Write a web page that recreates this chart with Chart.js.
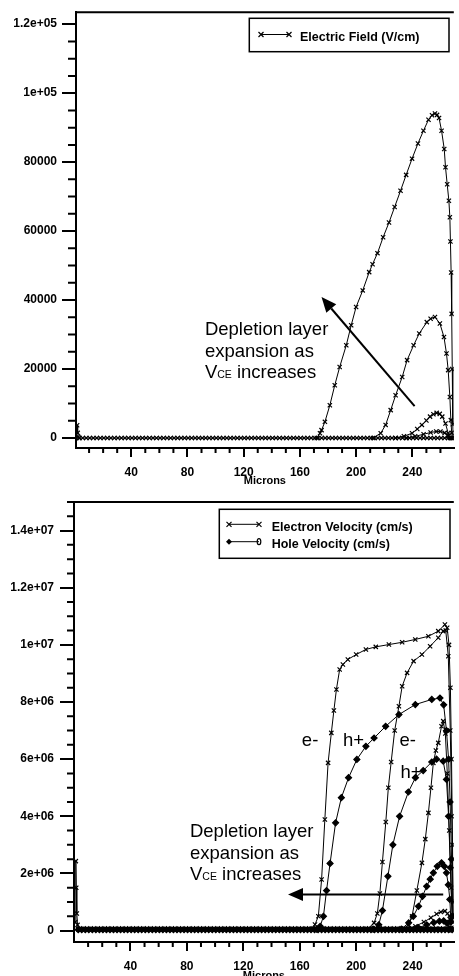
<!DOCTYPE html>
<html>
<head>
<meta charset="utf-8">
<script src="https://cdn.jsdelivr.net/npm/chart.js@4.4.1/dist/chart.umd.min.js"></script>
<style>
html, body { margin: 0; padding: 0; background: #fff; overflow: hidden; }
#wrap { position: relative; width: 459px; height: 976px; }
canvas { display: block; }
</style>
</head>
<body>
<div id="wrap">
<canvas id="fieldChart" width="459" height="488"></canvas>
<canvas id="velocityChart" width="459" height="488"></canvas>
</div>
<script>
// mesh points (microns) on the flat part of the curves
const meshX = [
    3, 5.5, 8, 10.5, 13, 15.5, 18, 20.5, 23, 25.5,
    28, 30.5, 33, 35.5, 38, 40.5, 43, 45.5, 48, 50.5,
    53, 55.5, 58, 60.5, 63, 65.5, 68, 70.5, 73, 75.5,
    78, 80.5, 83, 85.5, 88, 90.5, 93, 95.5, 98, 100.5,
    103, 105.5, 108, 110.5, 113, 115.5, 118, 120.5, 123, 125.5,
    128, 130.5, 133, 135.5, 138, 140.5, 143, 145.5, 148, 150.5,
    153, 155.5, 158, 160.5, 163, 165.5, 168, 170.5, 173, 175.5,
    178, 180.5, 183, 185.5, 188, 190.5, 193, 195.5, 198, 200.5,
    203, 205.5, 208, 210.5, 213, 215.5, 218, 220.5, 223, 225.5,
    228, 230.5, 233, 235.5, 238, 240.5, 243, 245.5, 248, 250.5,
    253, 255.5, 258, 260.5, 263, 265.5, 268
];
const fieldFlat = [
    0, 0, 0, 0, 0, 0, 0, 0, 0, 0,
    0, 0, 0, 0, 0, 0, 0, 0, 0, 0,
    0, 0, 0, 0, 0, 0, 0, 0, 0, 0,
    0, 0, 0, 0, 0, 0, 0, 0, 0, 0,
    0, 0, 0, 0, 0, 0, 0, 0, 0, 0,
    0, 0, 0, 0, 0, 0, 0, 0, 0, 0,
    0, 0, 0, 0, 0, 0, 0, 0, 0, 0,
    0, 0, 0, 0, 0, 0, 0, 0, 0, 0,
    0, 0, 0, 0, 0, 0, 0, 0, 0, 0,
    0, 0, 0, 0, 0, 0, 0, 0, 0, 0,
    0, 0, 0, 0, 0, 0, 0
];
const electronFlat = [
    5e4, 5e4, 5e4, 5e4, 5e4, 5e4, 5e4, 5e4, 5e4, 5e4,
    5e4, 5e4, 5e4, 5e4, 5e4, 5e4, 5e4, 5e4, 5e4, 5e4,
    5e4, 5e4, 5e4, 5e4, 5e4, 5e4, 5e4, 5e4, 5e4, 5e4,
    5e4, 5e4, 5e4, 5e4, 5e4, 5e4, 5e4, 5e4, 5e4, 5e4,
    5e4, 5e4, 5e4, 5e4, 5e4, 5e4, 5e4, 5e4, 5e4, 5e4,
    5e4, 5e4, 5e4, 5e4, 5e4, 5e4, 5e4, 5e4, 5e4, 5e4,
    5e4, 5e4, 5e4, 5e4, 5e4, 5e4, 5e4, 5e4, 5e4, 5e4,
    5e4, 5e4, 5e4, 5e4, 5e4, 5e4, 5e4, 5e4, 5e4, 5e4,
    5e4, 5e4, 5e4, 5e4, 5e4, 5e4, 5e4, 5e4, 5e4, 5e4,
    5e4, 5e4, 5e4, 5e4, 5e4, 5e4, 5e4, 5e4, 5e4, 5e4,
    5e4, 5e4, 5e4, 5e4, 5e4, 5e4, 5e4
];
const holeFlat = [
    3e4, 3e4, 3e4, 3e4, 3e4, 3e4, 3e4, 3e4, 3e4, 3e4,
    3e4, 3e4, 3e4, 3e4, 3e4, 3e4, 3e4, 3e4, 3e4, 3e4,
    3e4, 3e4, 3e4, 3e4, 3e4, 3e4, 3e4, 3e4, 3e4, 3e4,
    3e4, 3e4, 3e4, 3e4, 3e4, 3e4, 3e4, 3e4, 3e4, 3e4,
    3e4, 3e4, 3e4, 3e4, 3e4, 3e4, 3e4, 3e4, 3e4, 3e4,
    3e4, 3e4, 3e4, 3e4, 3e4, 3e4, 3e4, 3e4, 3e4, 3e4,
    3e4, 3e4, 3e4, 3e4, 3e4, 3e4, 3e4, 3e4, 3e4, 3e4,
    3e4, 3e4, 3e4, 3e4, 3e4, 3e4, 3e4, 3e4, 3e4, 3e4,
    3e4, 3e4, 3e4, 3e4, 3e4, 3e4, 3e4, 3e4, 3e4, 3e4,
    3e4, 3e4, 3e4, 3e4, 3e4, 3e4, 3e4, 3e4, 3e4, 3e4,
    3e4, 3e4, 3e4, 3e4, 3e4, 3e4, 3e4
];

// electric field (V/cm), one curve per bias
const fieldSpikeX = [1, 1.5, 1.9, 2.4, 3];
const fieldSpikeY = [0, 3700, 1500, 300, 0];
const field1X = [172, 174.3, 175.4, 177.8, 181.3, 184.8, 188.3, 193, 196.5, 200, 204.7, 209.3, 211.7, 215.2, 219.2, 223.4, 227.4, 231.6, 235.6, 239.8, 244, 247.9, 251.5, 254, 256.1, 257.6, 259, 260.8, 262.7, 263.6, 264.8, 266, 266.7, 267.1, 267.6, 268, 268.4, 268.8, 269];
const field1Y = [0, 1400, 2300, 4700, 9500, 15300, 20600, 26900, 32700, 38000, 42800, 48100, 50400, 53600, 58200, 62500, 67000, 71700, 76300, 81000, 85400, 89100, 92300, 93600, 94100, 93700, 92800, 89100, 83800, 78500, 73600, 68800, 64000, 57000, 48000, 36000, 20000, 4000, 0];
const field2X = [212, 217.5, 221, 224.6, 228.1, 232.8, 236.3, 240.9, 244.9, 250.3, 253, 256.1, 259.6, 262.5, 264.3, 265.5, 266.7, 267.4, 268, 268.5];
const field2Y = [0, 1400, 3800, 8100, 12400, 17700, 22600, 26900, 30300, 33600, 34600, 35100, 33200, 29300, 24500, 19700, 11900, 5200, 1500, 0];
const field3X = [228, 234, 239.8, 243.5, 246.8, 250, 252.6, 255, 257.3, 259.5, 261.3, 263.6, 265.5, 266.8];
const field3Y = [0, 500, 1400, 2600, 3800, 5100, 6200, 6900, 7300, 7000, 6200, 4200, 1400, 0];
const field4X = [236, 242, 248, 253, 257, 260, 263, 265.5, 267.5];
const field4Y = [0, 500, 1100, 1600, 1900, 1900, 1500, 700, 0];

// velocities (cm/s)
const velSpikeX = [1, 1.3, 1.6, 2, 2.5, 3];
const velSpikeY = [3e5, 2.43e6, 1.5e6, 6e5, 2e5, 5e4];
const elec1X = [168, 170.8, 173.2, 175.5, 177.8, 180.1, 182.4, 184.2, 186, 188.3, 190.6, 194.1, 200, 206.9, 213.9, 223.2, 232.6, 241.9, 251.2, 258.2, 262.9, 264.5, 265.8, 266.8, 267.6, 268.3, 268.9];
const elec1Y = [5e4, 2.1e5, 5e5, 1.79e6, 3.89e6, 5.87e6, 6.92e6, 7.7e6, 8.44e6, 9.14e6, 9.31e6, 9.49e6, 9.66e6, 9.84e6, 9.93e6, 1.001e7, 1.009e7, 1.019e7, 1.03e7, 1.048e7, 1.071e7, 1.06e7, 1.0e7, 8.5e6, 6e6, 3e6, 5e5];
const hole1X = [172, 174.5, 176.8, 179, 181.5, 185.4, 189.5, 194.6, 200.5, 206.9, 212.7, 220.9, 230.3, 241.9, 253.6, 259.4, 262, 264, 265.5, 266.6, 267.6, 268.5];
const hole1Y = [5e4, 1.5e5, 5e5, 1.4e6, 2.35e6, 3.77e6, 4.65e6, 5.35e6, 5.99e6, 6.45e6, 6.74e6, 7.15e6, 7.56e6, 7.91e6, 8.09e6, 8.14e6, 7.9e6, 7e6, 6e6, 4.5e6, 2.5e6, 5e5];
const elec2X = [208, 212.7, 215, 216.8, 218.6, 221, 222.8, 224.8, 227.3, 230.3, 232.6, 236.1, 240.7, 246.6, 252.4, 258.2, 261.7, 263.5, 265.3, 266.7, 267.8, 268.6];
const elec2Y = [5e4, 2.7e5, 6e5, 1.3e6, 2.4e6, 3.8e6, 5e6, 5.9e6, 7e6, 7.85e6, 8.55e6, 9.02e6, 9.43e6, 9.66e6, 9.95e6, 1.025e7, 1.048e7, 1.05e7, 9.6e6, 7e6, 4e6, 1e6];
const hole2X = [212, 216, 218.6, 222.5, 226, 230.8, 237, 242, 247.5, 253.6, 257, 261.7, 264, 265.5, 266.8, 268];
const hole2Y = [5e4, 2e5, 7e5, 1.9e6, 3e6, 4e6, 4.85e6, 5.35e6, 5.6e6, 5.9e6, 6e6, 5.93e6, 5.29e6, 4e6, 2.2e6, 5e5];
const elec3X = [234, 237, 239.6, 243, 246.6, 249, 251.2, 253, 254.7, 256.5, 258.2, 260.5, 261.7, 263.2, 264.6, 266, 267.3, 268.3];
const elec3Y = [5e4, 2e5, 5e5, 1.4e6, 2.37e6, 3.2e6, 4.12e6, 5e6, 5.87e6, 6.3e6, 6.57e6, 7.15e6, 7.33e6, 6.9e6, 5.5e6, 3.5e6, 1.5e6, 3e5];
const hole3X = [232, 237.2, 240.5, 244.2, 247, 250, 252.5, 254.7, 257.5, 260.5, 262.5, 264, 265.3, 266.4, 267.2];
const hole3Y = [5e4, 2.7e5, 5e5, 8.5e5, 1.2e6, 1.55e6, 1.8e6, 2.02e6, 2.25e6, 2.37e6, 2.25e6, 2.02e6, 1.6e6, 1.09e6, 3e5];
const elec4X = [236, 242, 248, 253, 257, 260, 262.9, 264.8, 266.3, 267.5];
const elec4Y = [5e4, 1.5e5, 3e5, 4.5e5, 5.8e5, 6.5e5, 6.8e5, 6e5, 4e5, 1e5];
const hole4X = [238, 244, 250, 255, 259, 262, 264.5, 266.5];
const hole4Y = [5e4, 1e5, 2e5, 2.8e5, 3.3e5, 3.4e5, 2.5e5, 5e4];

// axis ticks
const micronTicks = [40, 80, 120, 160, 200, 240];
const micronLabels = ['40', '80', '120', '160', '200', '240'];
const micronMinor = [10, 20, 30, 50, 60, 70, 90, 100, 110, 130, 140, 150, 170, 180, 190, 210, 220, 230, 250, 260];
const fieldTicks = [0, 20000, 40000, 60000, 80000, 100000, 120000];
const fieldLabels = ['0', '20000', '40000', '60000', '80000', '1e+05', '1.2e+05'];
const fieldMinor = [5000, 10000, 15000, 25000, 30000, 35000, 45000, 50000, 55000, 65000, 70000, 75000, 85000, 90000, 95000, 105000, 110000, 115000];
const velTicks = [0, 2e6, 4e6, 6e6, 8e6, 1e7, 1.2e7, 1.4e7];
const velLabels = ['0', '2e+06', '4e+06', '6e+06', '8e+06', '1e+07', '1.2e+07', '1.4e+07'];
const velMinor = [5e5, 1e6, 1.5e6, 2.5e6, 3e6, 3.5e6, 4.5e6, 5e6, 5.5e6, 6.5e6, 7e6, 7.5e6, 8.5e6, 9e6, 9.5e6, 1.05e7, 1.1e7, 1.15e7, 1.25e7, 1.3e7, 1.35e7, 1.45e7, 1.5e7];

Chart.defaults.font.family = '"Liberation Sans", Arial, sans-serif';
Chart.defaults.color = '#000';

function pts(xs, ys) {
    return xs.map((x, i) => ({ x: x, y: ys[i] }));
}

function curve(xs, ys, marker) {
    return {
        data: pts(xs, ys),
        showLine: true,
        borderColor: '#000',
        borderWidth: 1,
        tension: 0,
        pointStyle: marker,
        pointRadius: 3,
        pointBorderWidth: 1.2,
        pointBorderColor: '#000',
        pointBackgroundColor: '#000'
    };
}

function drawMarker(ctx, kind, x, y) {
    ctx.beginPath();
    if (kind === 'x') {
        ctx.lineWidth = 1.2;
        ctx.moveTo(x - 2.5, y - 2.5); ctx.lineTo(x + 2.5, y + 2.5);
        ctx.moveTo(x - 2.5, y + 2.5); ctx.lineTo(x + 2.5, y - 2.5);
        ctx.stroke();
    } else if (kind === 'diamond') {
        ctx.moveTo(x, y - 3); ctx.lineTo(x + 3, y); ctx.lineTo(x, y + 3); ctx.lineTo(x - 3, y);
        ctx.closePath();
        ctx.fill();
    } else {
        ctx.lineWidth = 1.2;
        ctx.ellipse(x, y, 1.8, 3, 0, 0, Math.PI * 2);
        ctx.stroke();
    }
}

function decor(cfg) {
    return {
        id: 'decor',
        afterDraw(chart) {
            const ctx = chart.ctx;
            const a = chart.chartArea;
            const xs = chart.scales.x;
            const ys = chart.scales.y;
            ctx.save();
            ctx.strokeStyle = '#000';
            ctx.fillStyle = '#000';

            // top frame line and minor ticks
            ctx.lineWidth = 2;
            ctx.beginPath();
            ctx.moveTo(a.left - 1, a.top);
            ctx.lineTo(a.right, a.top);
            cfg.minorX.forEach(v => {
                const px = xs.getPixelForValue(v);
                ctx.moveTo(px, a.bottom);
                ctx.lineTo(px, a.bottom + cfg.minorLenX);
            });
            cfg.minorY.forEach(v => {
                const py = ys.getPixelForValue(v);
                ctx.moveTo(a.left, py);
                ctx.lineTo(a.left - cfg.minorLenY, py);
            });
            ctx.stroke();

            // arrow
            const ar = cfg.arrow;
            const x0 = xs.getPixelForValue(ar.from[0]), y0 = ys.getPixelForValue(ar.from[1]);
            const x1 = xs.getPixelForValue(ar.to[0]), y1 = ys.getPixelForValue(ar.to[1]);
            const ang = Math.atan2(y1 - y0, x1 - x0);
            const hl = 15, hw = 6.5;
            const bx = x1 - hl * Math.cos(ang), by = y1 - hl * Math.sin(ang);
            ctx.lineWidth = 2;
            ctx.beginPath();
            ctx.moveTo(x0, y0);
            ctx.lineTo(bx, by);
            ctx.stroke();
            ctx.beginPath();
            ctx.moveTo(x1, y1);
            ctx.lineTo(bx + hw * Math.sin(ang), by - hw * Math.cos(ang));
            ctx.lineTo(bx - hw * Math.sin(ang), by + hw * Math.cos(ang));
            ctx.closePath();
            ctx.fill();

            // notes
            ctx.textBaseline = 'alphabetic';
            ctx.textAlign = 'left';
            cfg.notes.forEach(n => {
                let px = xs.getPixelForValue(n.x);
                const py = ys.getPixelForValue(n.y);
                n.parts.forEach(p => {
                    ctx.font = p[1] + 'px "Liberation Sans", Arial, sans-serif';
                    ctx.fillText(p[0], px, py);
                    px += ctx.measureText(p[0]).width;
                });
            });

            // legend box
            const lg = cfg.legend;
            ctx.lineWidth = 1.5;
            ctx.strokeRect(lg.box[0], lg.box[1], lg.box[2], lg.box[3]);
            ctx.font = 'bold 12.5px "Liberation Sans", Arial, sans-serif';
            ctx.textBaseline = 'middle';
            lg.items.forEach(it => {
                ctx.lineWidth = 1;
                ctx.beginPath();
                ctx.moveTo(lg.x0, it.y);
                ctx.lineTo(lg.x1, it.y);
                ctx.stroke();
                drawMarker(ctx, it.start, lg.x0, it.y);
                drawMarker(ctx, it.end, lg.x1, it.y);
                ctx.fillText(it.label, lg.tx, it.y + 3);
            });
            ctx.restore();
        }
    };
}

function axes(xMin, xMax, yMin, yMax, yTicks, yLabels, yPad, xHeight, yWidth, titlePad) {
    return {
        x: {
            type: 'linear',
            min: xMin,
            max: xMax,
            afterBuildTicks: s => { s.ticks = micronTicks.map(v => ({ value: v })); },
            afterFit: s => { s.height = xHeight; },
            ticks: {
                autoSkip: false,
                maxRotation: 0,
                padding: 8,
                font: { size: 12, weight: 'bold' },
                callback: (v, i) => micronLabels[i]
            },
            grid: { display: true, drawOnChartArea: false, tickLength: 9, lineWidth: 2, color: '#000' },
            border: { display: true, color: '#000', width: 2 },
            title: { display: true, text: 'Microns', font: { size: 11, weight: 'bold' }, padding: { top: 0, bottom: titlePad } }
        },
        y: {
            type: 'linear',
            min: yMin,
            max: yMax,
            afterBuildTicks: s => { s.ticks = yTicks.map(v => ({ value: v })); },
            afterFit: s => { s.width = yWidth; },
            ticks: {
                padding: yPad,
                font: { size: 12, weight: 'bold' },
                callback: (v, i) => yLabels[i]
            },
            grid: { display: true, drawOnChartArea: false, tickLength: 14, lineWidth: 2, color: '#000' },
            border: { display: true, color: '#000', width: 2 }
        }
    };
}

function loadFieldChart() {
    const ctx = document.getElementById('fieldChart').getContext('2d');
    new Chart(ctx, {
        type: 'scatter',
        data: {
            datasets: [
                curve(meshX, fieldFlat, 'crossRot'),
                curve(fieldSpikeX, fieldSpikeY, 'crossRot'),
                curve(field1X, field1Y, 'crossRot'),
                curve(field2X, field2Y, 'crossRot'),
                curve(field3X, field3Y, 'crossRot'),
                curve(field4X, field4Y, 'crossRot')
            ]
        },
        options: {
            responsive: false,
            animation: false,
            devicePixelRatio: 1,
            events: [],
            layout: { padding: { top: 11, left: 0, right: 0, bottom: 0 } },
            plugins: { legend: { display: false }, tooltip: { enabled: false } },
            scales: axes(0.7, 269.5, -2890, 123470, fieldTicks, fieldLabels, 5, 40, 76, 0.4)
        },
        plugins: [decor({
            minorX: micronMinor, minorLenX: 5,
            minorY: fieldMinor, minorLenY: 8,
            arrow: { from: [241.6, 9250], to: [175.4, 40860] },
            notes: [
                { x: 92.4, y: 29780, parts: [['Depletion layer', 18.5]] },
                { x: 92.4, y: 23570, parts: [['expansion as', 18.5]] },
                { x: 92.4, y: 17350, parts: [['V', 18.5], ['CE', 10.5], [' increases', 18.5]] }
            ],
            legend: {
                box: [249.3, 18.3, 199.7, 33.4], x0: 261, x1: 289, tx: 300,
                items: [{ label: 'Electric Field (V/cm)', y: 34.5, start: 'x', end: 'x' }]
            }
        })]
    });
}

function loadVelocityChart() {
    const ctx = document.getElementById('velocityChart').getContext('2d');
    new Chart(ctx, {
        type: 'scatter',
        data: {
            datasets: [
                curve(meshX, electronFlat, 'crossRot'),
                curve(meshX, holeFlat, 'rectRot'),
                curve(velSpikeX, velSpikeY, 'crossRot'),
                curve(elec1X, elec1Y, 'crossRot'),
                curve(hole1X, hole1Y, 'rectRot'),
                curve(elec2X, elec2Y, 'crossRot'),
                curve(hole2X, hole2Y, 'rectRot'),
                curve(elec3X, elec3Y, 'crossRot'),
                curve(hole3X, hole3Y, 'rectRot'),
                curve(elec4X, elec4Y, 'crossRot'),
                curve(hole4X, hole4Y, 'rectRot')
            ]
        },
        options: {
            responsive: false,
            animation: false,
            devicePixelRatio: 1,
            events: [],
            layout: { padding: { top: 14, left: 0, right: 0, bottom: 0 } },
            plugins: { legend: { display: false }, tooltip: { enabled: false } },
            scales: axes(0, 269.2, -4e5, 1.5e7, velTicks, velLabels, 6, 34, 74, -6.5)
        },
        plugins: [decor({
            minorX: micronMinor, minorLenX: 5,
            minorY: velMinor, minorLenY: 7,
            arrow: { from: [261.7, 1.26e6], to: [151.7, 1.26e6] },
            notes: [
                { x: 82.2, y: 3.28e6, parts: [['Depletion layer', 18.5]] },
                { x: 82.2, y: 2.52e6, parts: [['expansion as', 18.5]] },
                { x: 82.2, y: 1.76e6, parts: [['V', 18.5], ['CE', 10.5], [' increases', 18.5]] },
                { x: 161.5, y: 6.45e6, parts: [['e-', 18.5]] },
                { x: 190.6, y: 6.45e6, parts: [['h+', 18.5]] },
                { x: 230.7, y: 6.45e6, parts: [['e-', 18.5]] },
                { x: 231.4, y: 5.35e6, parts: [['h+', 18.5]] }
            ],
            legend: {
                box: [219.3, 21.3, 230.7, 49], x0: 229, x1: 259, tx: 271.7,
                items: [
                    { label: 'Electron Velocity (cm/s)', y: 36.3, start: 'x', end: 'x' },
                    { label: 'Hole Velocity (cm/s)', y: 53.7, start: 'diamond', end: 'ring' }
                ]
            }
        })]
    });
}

loadFieldChart();
loadVelocityChart();
</script>
</body>
</html>
